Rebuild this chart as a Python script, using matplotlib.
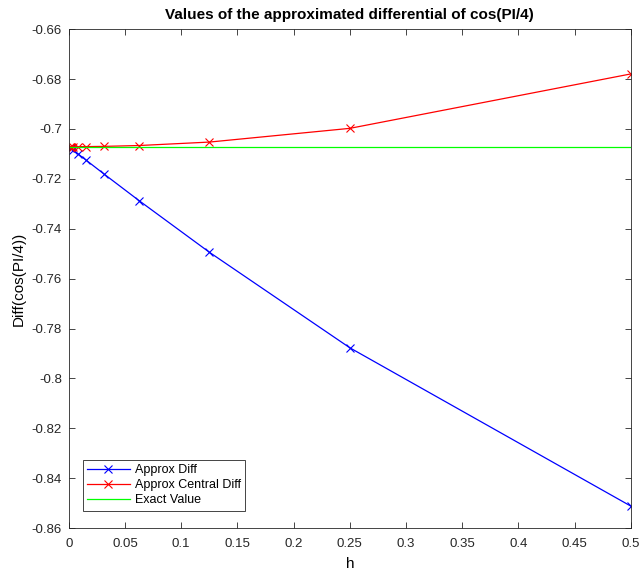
import numpy as np
import matplotlib.pyplot as plt

plt.rcParams['font.family'] = ['Liberation Sans', 'DejaVu Sans']

# step sizes h (halved each time)
h = [0.5, 0.25, 0.125, 0.0625, 0.03125, 0.015625, 0.0078125,
     0.00390625, 0.001953125, 0.0009765625]

# forward difference approximation
approx_diff = [-0.85115, -0.78770, -0.74940, -0.72873, -0.71804,
               -0.71259, -0.70987, -0.70849, -0.70780, -0.70745]

# central difference approximation
approx_central = [-0.67796, -0.69977, -0.70527, -0.70665, -0.70699,
                  -0.70708, -0.70710, -0.70711, -0.70711, -0.70711]

exact = [-0.70711] * len(h)

fig = plt.figure(figsize=(6.43, 5.71), dpi=100)
ax = fig.add_axes([0.107, 0.075, 0.874, 0.874])

ax.plot(h, approx_diff, '-x', color='#0000ff', linewidth=0.9, markersize=6,
        markeredgewidth=0.8, label='Approx Diff')
ax.plot(h, approx_central, '-x', color='#ff0000', linewidth=0.9, markersize=6,
        markeredgewidth=0.8, label='Approx Central Diff')
ax.plot(h, exact, '-', color='#00ff00', linewidth=0.9, label='Exact Value')

ax.set_xlim(0, 0.5)
ax.set_ylim(-0.86, -0.66)
ax.set_xticks(np.arange(0, 0.51, 0.05))
ax.set_xticklabels(['0', '0.05', '0.1', '0.15', '0.2', '0.25', '0.3',
                    '0.35', '0.4', '0.45', '0.5'])
ax.set_yticks(np.arange(-0.86, -0.659, 0.02))
ax.set_yticklabels(['-0.86', '-0.84', '-0.82', '-0.8', '-0.78', '-0.76',
                    '-0.74', '-0.72', '-0.7', '-0.68', '-0.66'])
ax.tick_params(direction='in', top=True, right=True, length=4.5, width=0.6,
               labelsize=9.5, colors='#262626')
ax.tick_params(axis='x', pad=7)
ax.tick_params(axis='y', pad=5)
for s in ax.spines.values():
    s.set_linewidth(0.6)
    s.set_color('#262626')

ax.set_title('Values of the approximated differential of cos(PI/4)',
             fontsize=11, fontweight='bold', pad=7)
ax.set_xlabel('h', fontsize=11, labelpad=5)
ax.set_ylabel('Diff(cos(PI/4))', fontsize=11)

leg = ax.legend(loc='lower left', bbox_to_anchor=(0.025, 0.035), fontsize=9,
                fancybox=False, edgecolor='#262626', framealpha=1,
                handlelength=3.4, handletextpad=0.4, borderpad=0.35,
                labelspacing=0.25, borderaxespad=0)
leg.get_frame().set_linewidth(0.6)

fig.savefig('out.png', dpi=100)
